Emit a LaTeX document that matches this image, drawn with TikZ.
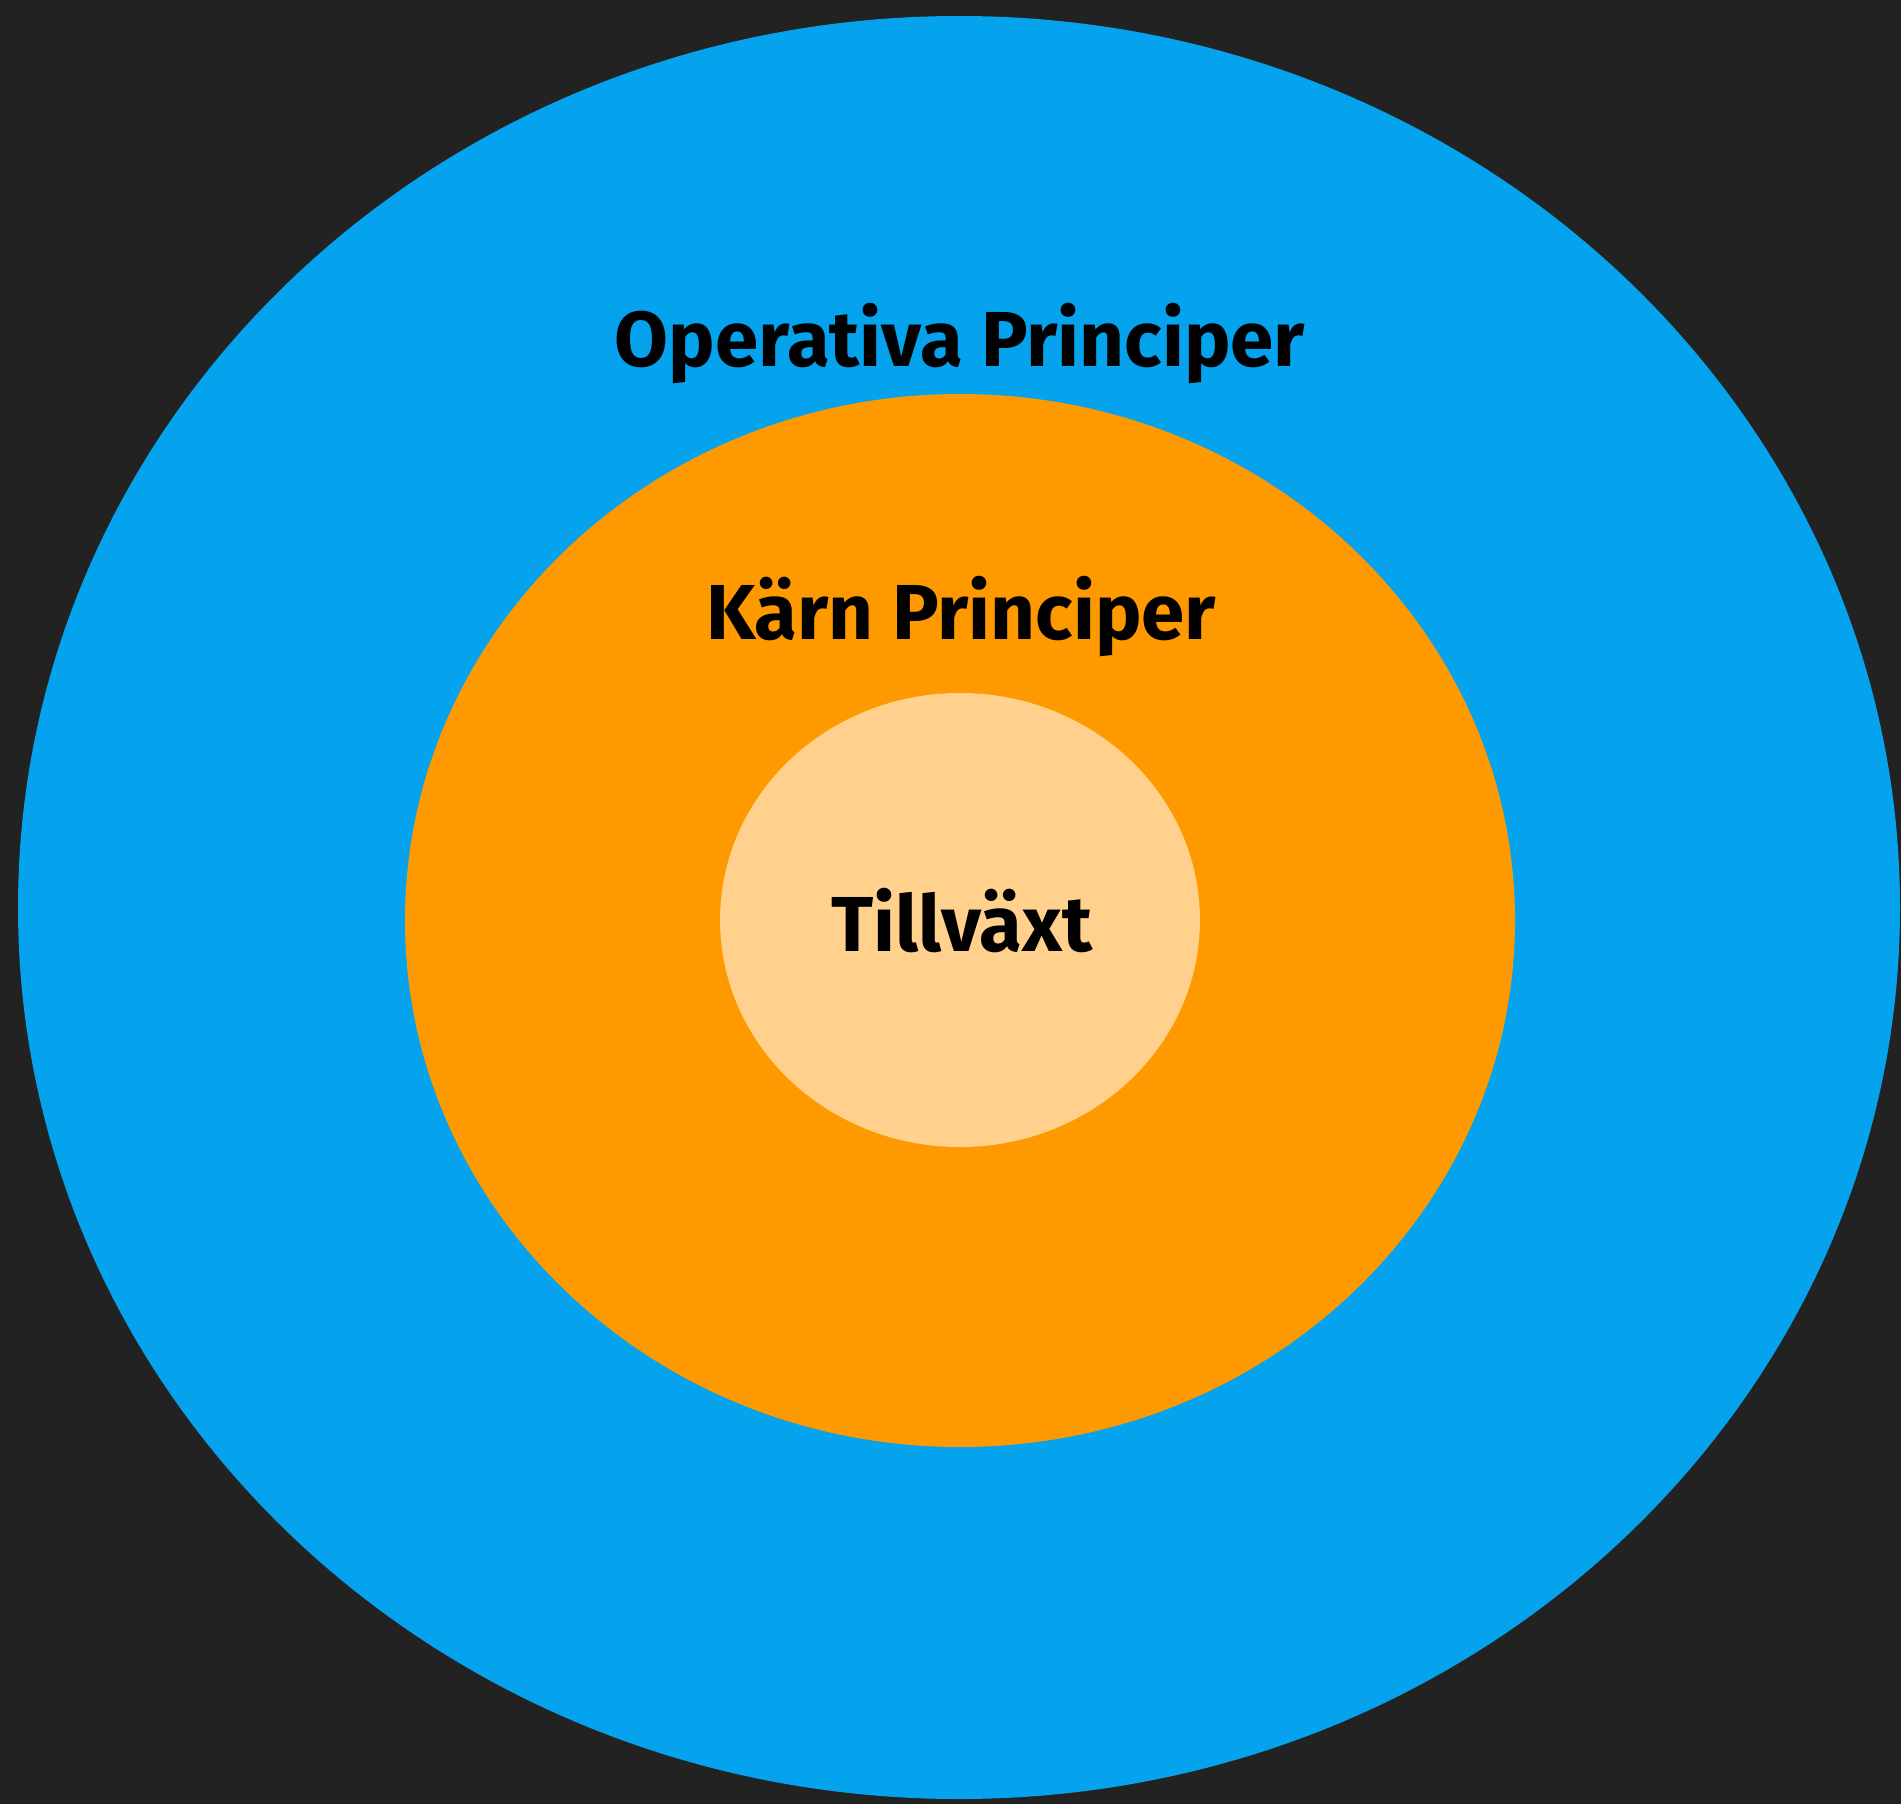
\documentclass[tikz,border=0pt]{standalone}
\usepackage{fontspec}
\setmainfont{Fira Sans}
\definecolor{bgdark}{HTML}{222222}
\definecolor{ringblue}{HTML}{05A2ED}
\definecolor{ringorange}{HTML}{FF9900}
\definecolor{ringlight}{HTML}{FFD18C}
\tikzset{
  ringlabel/.style={anchor=base, inner sep=0pt, text=black,
    font=\fontsize{78}{82}\selectfont\bfseries}
}
\begin{document}
\begin{tikzpicture}[x=1pt,y=-1pt]
  \fill[bgdark] (0,0) rectangle (1901,1804);
  \useasboundingbox (0,0) rectangle (1901,1804);
  \fill[ringblue] (959,907.5) ellipse [x radius=941, y radius=891.5];
  \fill[ringorange] (960,920.5) ellipse [x radius=555, y radius=526.5];
  \fill[ringlight] (960,920) ellipse [x radius=240, y radius=227];
  \node[ringlabel] (outer) at (960,366) {Operativa Principer};
  \node[ringlabel] (middle) at (961,639) {Kärn Principer};
  \node[ringlabel] (inner) at (962,951) {Tillväxt};
\end{tikzpicture}
\end{document}
